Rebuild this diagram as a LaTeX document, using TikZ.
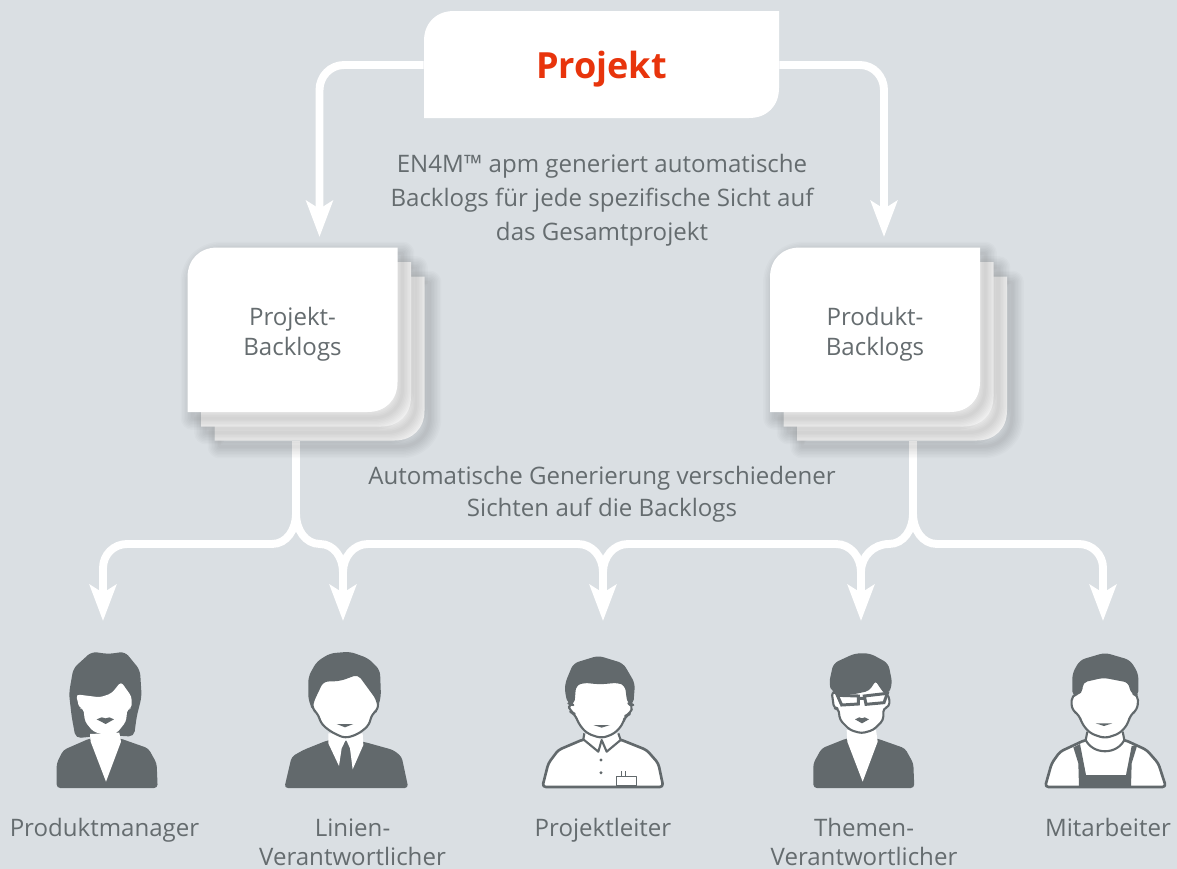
\documentclass[tikz,border=0pt]{standalone}
\usepackage{fontspec}
\setmainfont{Open Sans}
\usetikzlibrary{arrows.meta,backgrounds}

\newcommand{\sheetpath}[4]{(#1+30,#2) -- (#3,#2) -- (#3,#4-30) .. controls (#3,#4-12) and (#3-12,#4) .. (#3-30,#4) -- (#1,#4) -- (#1,#2+30) .. controls (#1,#2+12) and (#1+12,#2) .. (#1+30,#2) -- cycle}
\newcommand{\sheetshadow}[4]{
    \foreach \spread in {24,21,...,3}
        \draw[black,opacity=0.016,line width=\spread*0.567pt,line join=round] [shift={(5,6)}] \sheetpath{#1}{#2}{#3}{#4};
}
\newcommand{\sheetstack}[1]{
    \begin{scope}[shift={(#1,0)}]
    \sheetshadow{214.5}{276.5}{424.5}{440.5}
    \fill[sheetback] \sheetpath{214.5}{276.5}{424.5}{440.5};
    \sheetshadow{201}{262}{411}{426.5}
    \fill[sheetback] \sheetpath{201}{262}{411}{426.5};
    \sheetshadow{187.5}{247.5}{397.5}{412}
    \fill[white] \sheetpath{187.5}{247.5}{397.5}{412};
    \end{scope}
}

\tikzset{
    flow/.style={draw=white,line width=4.5pt,-{Stealth[length=20.5pt,width=15pt,inset=4.5pt]}},
    flowline/.style={draw=white,line width=4.5pt},
    caption/.style={text=captiongrey,align=center,font=\fontsize{13.7}{18.2}\selectfont},
    roleone/.style={caption,anchor=base},
    roletwo/.style={caption,font=\fontsize{13.7}{16.5}\selectfont},
    icon/.style={fill=icongrey},
    iconline/.style={draw=icongrey,line width=1.5pt,fill=white,line join=round},
    iconwhite/.style={fill=white}
}

\begin{document}
\begin{tikzpicture}[x=0.02cm,y=-0.02cm]
    \definecolor{pagegrey}{RGB}{218,223,227}
    \definecolor{captiongrey}{RGB}{101,108,111}
    \definecolor{icongrey}{RGB}{98,105,108}
    \definecolor{sheetback}{RGB}{243,243,243}
    \definecolor{projektred}{RGB}{232,52,12}
    \useasboundingbox (0,0) rectangle (1177,869);
    \begin{pgfonlayer}{background}
    \fill[pagegrey] (0,0) rectangle (1177,869);
    \end{pgfonlayer}

    % top box
    \fill[white] \sheetpath{424}{11}{779}{118};
    \node (projekt) [minimum width=7.1cm,minimum height=2.14cm,text=projektred,font=\fontsize{20.5}{24}\selectfont\bfseries,text depth=0pt] at (601.5,64.5) {Projekt};
    \node (hinweisoben) [caption,font=\fontsize{13.7}{19.3}\selectfont] at (602,200) {EN4M™ apm generiert automatische\\Backlogs für jede spezifische Sicht auf\\das Gesamtprojekt};

    % backlog stacks
    \sheetstack{0}
    \sheetstack{582.5}
    \node (projektbacklogs) [caption,font=\fontsize{13.7}{17}\selectfont] at (292.5,334) {Projekt-\\Backlogs};
    \node (produktbacklogs) [caption,font=\fontsize{13.7}{17}\selectfont] at (875,334) {Produkt-\\Backlogs};
    \node (hinweismitte) [caption] at (602,494) {Automatische Generierung verschiedener\\Sichten auf die Backlogs};

    % ends of the connectors
    \coordinate (stackleft) at (296,441);
    \coordinate (stackright) at (913,441);
    \coordinate (tiptl) at (319.5,237);
    \coordinate (tiptr) at (884,237);
    \coordinate (tipa) at (103,621);
    \coordinate (tipb) at (343,621);
    \coordinate (tipc) at (603,621);
    \coordinate (tipd) at (861,621);
    \coordinate (tipe) at (1103,621);

    \begin{pgfonlayer}{background}
    \draw[flow] (projekt.west |- 0,65) to (344,65) to[out=180,in=90] (319.5,90) to (tiptl);
    \draw[flow] (projekt.east |- 0,65) to (860,65) to[out=0,in=90] (884,90) to (tiptr);
    \draw[flow] (stackleft) to (296,514) to[out=-90,in=0] (272,544) to (127,544) to[out=180,in=90] (103,568) to (tipa);
    \draw[flowline] (stackleft) to (296,514) to[out=-90,in=180] (320,544) to[out=0,in=90] (343,572);
    \draw[flow] (343,572) to[out=90,in=180] (368,544) to (578,544) to[out=0,in=90] (603,572) to (tipc);
    \draw[flow] (343,560) to (tipb);
    \draw[flowline] (603,572) to[out=90,in=180] (628,544) to (836,544) to[out=0,in=90] (861,572);
    \draw[flow] (861,560) to (tipd);
    \draw[flowline] (861,572) to[out=90,in=180] (889,544) to[out=0,in=-90] (913,514) to (stackright);
    \draw[flow] (stackright) to (913,514) to[out=-90,in=180] (937,544) to (1079,544) to[out=0,in=90] (1103,568) to (tipe);
    \end{pgfonlayer}

    % people
    \begin{scope}[shift={(40,640)},scale=1/3]
    \fill[icon,rounded corners=3pt] (107,295) -- (95,230) -- (87,160) -- (100,85) -- (155,35) -- (205,42) -- (255,35) -- (300,90) -- (305,170) -- (290,230) -- (282,290) -- (200,285) -- cycle;
    \fill[icon,rounded corners=2pt] (50,444) -- (50,370) -- (70,330) -- (150,295) -- (240,295) -- (325,325) -- (350,370) -- (353,444) -- cycle;
    \fill[iconwhite] (150,282) -- (238,278) -- (243,305) -- (198,425) -- (152,305) -- cycle;
    \fill[iconwhite,rounded corners=2pt] (108,163) -- (180,172) -- (215,160) -- (243,125) -- (275,170) -- (275,205) -- (262,207) -- (258,245) -- (230,280) -- (195,285) -- (160,275) -- (135,245) -- (130,205) -- (118,205) -- cycle;
    \fill[icon] (170,238) -- (185,232) -- (197,235) -- (208,232) -- (222,238) -- (197,252) -- cycle;

    \fill[icon,rounded corners=2pt] (733,444) -- (755,350) -- (790,330) -- (865,300) -- (970,305) -- (1060,330) -- (1085,350) -- (1105,444) -- cycle;
    \fill[iconwhite] (865,280) -- (968,280) -- (970,315) -- (938,388) -- (930,325) -- (918,298) -- (905,325) -- (897,378) -- (865,310) -- cycle;
    \fill[icon,rounded corners=3pt] (805,180) -- (805,110) -- (830,65) -- (870,40) -- (930,35) -- (985,55) -- (1020,90) -- (1023,170) -- (1010,215) -- (820,215) -- cycle;
    \draw[iconline,line width=1.2pt,rounded corners=3pt] (818,185) -- (848,122) -- (900,120) -- (955,100) -- (1012,178) -- (1016,208) -- (995,222) -- (988,255) -- (955,282) -- (915,295) -- (872,275) -- (842,250) -- (835,222) -- (815,205) -- cycle;
    \fill[icon] (890,252) -- (940,252) -- (915,262) -- cycle;
    \end{scope}

    \begin{scope}[shift={(530,640)},scale=1/3]
    \draw[iconline,rounded corners=2pt] (37,441) -- (55,370) -- (85,330) -- (160,298) -- (270,298) -- (350,330) -- (385,370) -- (400,441) -- cycle;
    \draw[iconline,line width=1.2pt] (163,280) -- (160,298) -- (205,335) -- (215,300) -- (230,335) -- (272,300) -- (265,280);
    \fill[icon] (213,360) circle (5) (213,398) circle (5);
    \draw[iconline,line width=0.6pt] (260,438) rectangle (320,410) (275,410) -- (275,393) (286,410) -- (286,393);
    \fill[icon,rounded corners=3pt] (105,130) -- (130,70) -- (205,47) -- (280,70) -- (315,130) -- (310,195) -- (115,195) -- (105,160) -- cycle;
    \draw[iconline,line width=1.2pt,rounded corners=3pt] (130,195) -- (135,135) -- (160,125) -- (210,130) -- (265,125) -- (288,135) -- (295,190) -- (310,195) -- (300,222) -- (285,228) -- (280,250) -- (255,280) -- (215,295) -- (170,280) -- (145,250) -- (135,222) -- (120,215) -- (115,190) -- cycle;
    \fill[icon] (190,255) -- (240,255) -- (215,263) -- cycle;

    \fill[icon,rounded corners=2pt] (850,444) -- (850,370) -- (875,325) -- (950,295) -- (1040,295) -- (1125,325) -- (1150,370) -- (1153,444) -- cycle;
    \fill[iconwhite] (950,270) -- (1038,270) -- (1043,305) -- (998,425) -- (952,305) -- cycle;
    \draw[iconline,line width=1.2pt,rounded corners=2pt] (905,155) -- (920,160) -- (970,160) -- (1015,150) -- (1037,118) -- (1062,155) -- (1078,170) -- (1078,200) -- (1060,205) -- (1060,240) -- (1030,270) -- (995,280) -- (960,270) -- (930,240) -- (925,205) -- (912,205) -- cycle;
    \fill[icon,rounded corners=3pt] (897,130) -- (910,70) -- (975,40) -- (1020,40) -- (1075,70) -- (1087,130) -- (1075,165) -- (1060,155) -- (1037,118) -- (1015,150) -- (970,160) -- (920,160) -- (905,155) -- cycle;
    \draw[iconline,line width=1.7pt,line join=miter] (922,166) -- (985,168) -- (985,192) -- (935,195) -- cycle (1003,168) -- (1072,160) -- (1062,188) -- (1008,193) -- cycle (985,175) -- (1003,175);
    \fill[icon] (975,238) -- (988,232) -- (996,235) -- (1004,232) -- (1017,238) -- (996,250) -- cycle;
    \end{scope}

    \begin{scope}[shift={(1030,640)},scale=1/3]
    \draw[iconline,rounded corners=2pt] (45,441) -- (65,370) -- (90,335) -- (165,300) -- (285,300) -- (350,330) -- (385,370) -- (408,441) -- cycle;
    \fill[icon] (130,322) -- (150,312) -- (168,405) -- (288,405) -- (305,318) -- (322,315) -- (305,370) -- (303,441) -- (147,441) -- (145,370) -- cycle;
    \draw[iconline,line width=1.2pt] (172,275) -- (167,300) .. controls (190,345) and (260,345) .. (283,300) -- (278,275);
    \fill[icon,rounded corners=3pt] (127,100) -- (150,60) -- (225,38) -- (300,60) -- (325,100) -- (325,170) -- (127,170) -- cycle;
    \draw[iconline,line width=1.2pt,rounded corners=3pt] (155,160) -- (155,125) -- (220,110) -- (298,125) -- (305,160) -- (325,165) -- (322,210) -- (300,225) -- (295,250) -- (270,280) -- (225,295) -- (180,280) -- (155,250) -- (148,225) -- (125,210) -- (125,165) -- cycle;
    \fill[icon] (197,250) -- (247,250) -- (222,258) -- cycle;
    \end{scope}

    % role labels
    \node (produktmanager) [roleone] at (104.5,836.5) {Produktmanager};
    \node (linienverantwortlicher) [roletwo] at (352.5,842) {Linien-\\Verantwortlicher};
    \node (projektleiter) [roleone] at (603,836.5) {Projektleiter};
    \node (themenverantwortlicher) [roletwo] at (864,842) {Themen-\\Verantwortlicher};
    \node (mitarbeiter) [roleone] at (1108,836.5) {Mitarbeiter};
\end{tikzpicture}
\end{document}
